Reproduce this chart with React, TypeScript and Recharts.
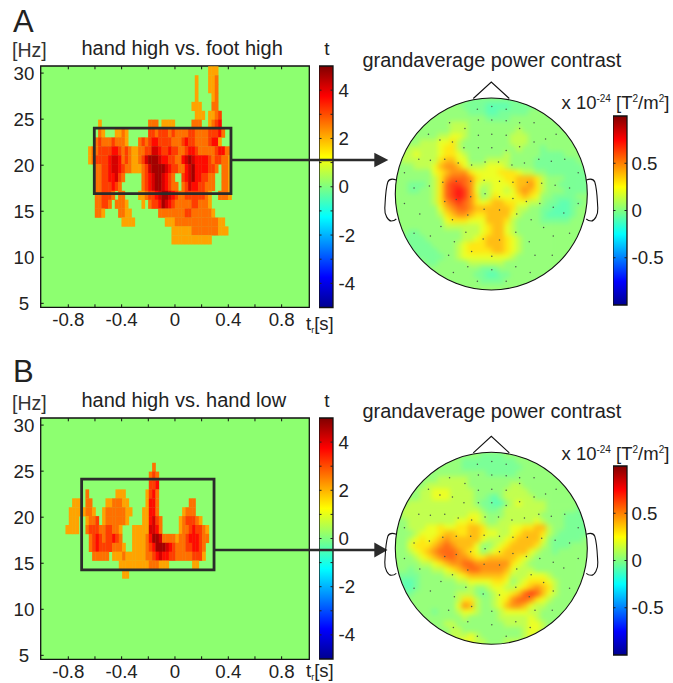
import React from "react";
import { ScatterChart, Scatter, XAxis, YAxis, ReferenceArea } from "recharts";

const FONT = '"Liberation Sans", Arial, sans-serif';
const INK = "#222";

// jet colour map used by every panel
const JET_STOPS = [
  [0, 0, 0, 143], [0.125, 0, 0, 255], [0.375, 0, 255, 255],
  [0.625, 255, 255, 0], [0.875, 255, 0, 0], [1, 128, 0, 0],
];
function jet(x: number) {
  const c = Math.max(0, Math.min(1, x));
  for (let i = 1; i < JET_STOPS.length; i++) {
    const a = JET_STOPS[i - 1], b = JET_STOPS[i];
    if (c <= b[0]) {
      const k = (c - a[0]) / (b[0] - a[0]);
      return `rgb(${[1, 2, 3].map((j) => Math.round(a[j] + (b[j] - a[j]) * k)).join(",")})`;
    }
  }
  return "rgb(128,0,0)";
}

// time-frequency rows, top to bottom. Each char is t / 0.5, '.' is below threshold
const FREQS = [30.24, 29.27, 28.31, 27.34, 26.38, 25.41, 24.45, 23.48, 22.52, 21.55, 20.58, 19.62, 18.65, 17.69, 16.72, 15.76, 14.79, 13.82, 12.86, 11.89];
const T_START_A = -0.65;
const TF_A = [
  "....................................444",
  "................................4...445",
  "................................4...445",
  "................................4....45",
  "...............................444...55",
  "................................444.4456",
  "...4..............555.4444.....555..4567",
  "...54...4454......66566656555566555566675",
  "..5655565554...5656776666555676655556774",
  "4556666776565445566887667665567765555567755",
  "4566667887565445689998776655789877776566554",
  "..5566788765544456899998766557897777665.554",
  "..556677865.....5678998765..6789776655..554",
  "..55666765......56789987655.5687766555..554",
  "..556665.55....4456678998765566666654..5554",
  "..55665.5554....4.5667987655555665554",
  "..554....5544........55555555665555554",
  "..........4444.........444555555555555544",
  ".........................44444455555555444",
  ".........................444444444444",
];
const T_START_B = -0.82;
const TF_B = [
  "",
  "",
  "",
  "",
  "",
  "..........................5",
  ".........................565",
  ".........................667",
  "......5........444......4675",
  "..444.55....4455544.....4775.........55",
  ".44444554..455555544...44775.......4555",
  ".444..4556.45555554....447865.....4566654",
  "4444..56665566554...444448875.....455676654",
  ".......5676566765...44445799855554556777655",
  ".......56766665554..4444567999876555667765",
  "........55555.4445444444556787766555556664",
  "................444444444555444.......44",
  ".................44",
];

// topography rows, top to bottom. 4 is zero, steps of 0.09 above and 0.06 below
const LEVELS = "0123456789abc";
const TOPO_A = [
  "44444444444433333333344444444444",
  "44444444444333322223333444444444",
  "44444444444433322333334444444444",
  "44444444444444433334444444444444",
  "44444444455544444444444444444444",
  "44444444455544444444544444444444",
  "44444445566544444445554444444444",
  "44445556675444444445554444444444",
  "44555556775444444444544434444444",
  "45565556776544444454444433334444",
  "45555557886644455554444333333344",
  "44455568998655566654444333333334",
  "44444467899976666777655443333333",
  "44444457" + "9aaa9766" + "66778887" + "54443333",
  "44333457abba96556667889754433333",
  "44334457abcb9645" + "66568987" + "54443333",
  "44444457abcb9745" + "76667876" + "44333344",
  "444444579aba9767" + "88776655" + "43322334",
  "44444446" + "89aa9888" + "88875544" + "33222344",
  "44444445" + "78998778" + "88865444" + "32222344",
  "44444444" + "67776668" + "88754444" + "33333444",
  "44444444" + "55555567" + "88654444" + "44444444",
  "44334444" + "44455567" + "88654444" + "44444444",
  "43333444" + "44455678" + "88765444" + "44444444",
  "43333344" + "44567778" + "88765444" + "44444444",
  "44333334" + "44567777" + "88765444" + "44444444",
  "44433333" + "44566666" + "66654444" + "44444444",
  "44444334" + "44445555" + "55444444" + "44444444",
  "44444444" + "44444433" + "34444444" + "44444444",
  "44444444" + "44444332" + "23344444" + "44444444",
  "44444444" + "44444433" + "33444444" + "44444444",
  "44444444" + "44444444" + "44444444" + "44444444",
];
const TOPO_B = [
  "44444444" + "44444433" + "33444444" + "44444444",
  "44444444" + "44433333" + "33334444" + "44444444",
  "44444444" + "44433333" + "33333444" + "44444444",
  "44444444" + "44444443" + "33334444" + "44444444",
  "44444445" + "55554444" + "44444444" + "44444444",
  "44444555" + "55554444" + "44455444" + "44444444",
  "44445566" + "65555444" + "44555544" + "44444444",
  "44445566" + "65555443" + "24555554" + "44444444",
  "44555555" + "55555433" + "22456555" + "54444444",
  "45555555" + "55555543" + "34555555" + "54444433",
  "45555555" + "55556654" + "44555555" + "44443333",
  "44555555" + "55667654" + "45555556" + "54443333",
  "44555667" + "66778875" + "55566778" + "85443333",
  "44456667" + "88778876" + "65567888" + "75433333",
  "44567678" + "98888865" + "55678888" + "64333334",
  "44677789" + "a9888644" + "56788887" + "54333444",
  "4456789a" + "aa987645" + "67888865" + "44344444",
  "44456789" + "aa998778" + "88887654" + "44444444",
  "44445567" + "899aa999" + "99976544" + "44444444",
  "44344455" + "6789aa99" + "99865554" + "44444444",
  "33334444" + "55678888" + "88755566" + "65444444",
  "32234444" + "44556666" + "77645677" + "76544444",
  "32234444" + "44445445" + "66556789" + "87544444",
  "43344444" + "44555434" + "56678aba" + "86544444",
  "44444444" + "44577544" + "5679aa97" + "65444444",
  "44444444" + "44698544" + "56899865" + "54444444",
  "44444434" + "44566544" + "45666655" + "44444444",
  "44444444" + "44454444" + "45555565" + "44444444",
  "44444444" + "55444444" + "44555566" + "54444444",
  "44444444" + "45544444" + "44444566" + "54444444",
  "44444444" + "45556544" + "44444565" + "44444444",
  "44444444" + "55666554" + "44555554" + "44444444",
];

// sensor positions as offsets from the head centre, in units of the head radius
const SENSOR_X = [-0.15, 0, 0.15, -0.14, 0, 0.15, 0.29, 0.44, -0.44, -0.28, 0.29, -0.66, -0.14, 0, 0.15, 0.56, 0.67, -0.54, -0.41, -0.29, -0.14, 0, 0.15, 0.29, 0.44, -0.76, -0.64, -0.49, -0.35, -0.21, -0.07, 0.07, 0.21, 0.34, 0.49, 0.62, 0.76, -0.91, 0.9, -0.81, -0.65, -0.51, -0.37, -0.22, -0.08, 0.08, 0.22, 0.37, 0.52, 0.66, 0.81, -0.91, -0.49, -0.37, -0.22, -0.07, 0.08, 0.22, 0.36, 0.5, 0.64, 0.9, -0.75, -0.41, -0.25, -0.08, 0.08, 0.26, 0.41, 0.75, -0.64, -0.53, -0.27, -0.09, 0.08, 0.25, 0.54, 0.64, -0.81, 0.81, -0.39, -0.21, 0.39, -0.45, 0, 0.45, 0.63, -0.25, 0.25, -0.40, 0.40, 0, -0.15, 0.15];
const SENSOR_Y = [0.88, 0.91, 0.88, 0.77, 0.77, 0.76, 0.74, 0.74, 0.74, 0.68, 0.68, 0.62, 0.61, 0.62, 0.61, 0.57, 0.62, 0.56, 0.54, 0.48, 0.48, 0.48, 0.45, 0.49, 0.54, 0.36, 0.35, 0.36, 0.32, 0.3, 0.33, 0.33, 0.3, 0.32, 0.36, 0.34, 0.36, 0.22, 0.22, 0.06, 0.08, 0.12, 0.13, 0.13, 0.14, 0.13, 0.12, 0.12, 0.11, 0.09, 0.06, -0.1, -0.08, -0.06, -0.03, 0, -0.03, -0.05, -0.08, -0.1, -0.14, -0.1, -0.21, -0.27, -0.22, -0.16, -0.17, -0.21, -0.27, -0.2, -0.44, -0.34, -0.4, -0.47, -0.48, -0.4, -0.35, -0.44, -0.41, -0.41, -0.5, -0.6, -0.5, -0.64, -0.65, -0.64, -0.64, -0.76, -0.76, -0.82, -0.82, -0.79, -0.91, -0.91];

const T_TICKS = [-0.8, -0.6, -0.4, -0.2, 0, 0.2, 0.4, 0.6, 0.8];
const T_LABELS = [-0.8, -0.4, 0, 0.4, 0.8];
const HZ_TICKS = [5, 10, 15, 20, 25, 30];
const T_BAR_TICKS = [-4, -3, -2, -1, 0, 1, 2, 3, 4];
const T_BAR_LABELS = [-4, -2, 0, 2, 4];
const POWER_BAR_TICKS = [-0.5, 0, 0.5];

// analysis windows [t1, t2, f1, f2]
const BOX_A = [-0.605, 0.42, 16.92, 24.03];
const BOX_B = [-0.7, 0.293, 14.28, 24.14];

const tfPoints = (rows: string[], tStart: number) =>
  rows.flatMap((row, k) =>
    row.split("").flatMap((c, i) =>
      c === "." ? [] : [{ t: tStart + 0.025 * i + 0.0125, f: FREQS[k], v: Number(c) * 0.5 + 0.15 }]
    )
  );

const levelValue = (c: string) => {
  const n = LEVELS.indexOf(c) - 4;
  return (n < 0 ? n * 0.06 : n * 0.09) + 0.03;
};

const topoPoints = (rows: string[]) =>
  rows.flatMap((row, j) =>
    row.split("").map((c, i) => ({
      x: (145 + 18 * i - 423) / 287,
      y: (461 - (182 + 18 * j)) / 287,
      v: levelValue(c),
    }))
  );

const sensorPoints = SENSOR_X.map((x, i) => ({ x, y: SENSOR_Y[i] }));

function TfPanel({ top, rows, tStart, box }: { top: number; rows: string[]; tStart: number; box: number[] }) {
  const data = tfPoints(rows, tStart);
  return (
    <div className="tf" style={{ position: "absolute", left: 0, top: top - 6 }}>
      <ScatterChart width={312} height={285} margin={{ top: 6, right: 2.7, bottom: 0, left: 0 }}>
        <XAxis
          type="number" dataKey="t" domain={[-1.007, 1.0075]} ticks={T_TICKS} interval={0} height={37.7}
          axisLine={false} tickLine={false} tickSize={0} tickMargin={0} allowDataOverflow
          tick={(p: any) => (
            <g>
              <line x1={p.x} x2={p.x} y1={p.y} y2={p.y - 3} stroke="#111" strokeWidth={1} />
              <line x1={p.x} x2={p.x} y1={p.y - 241} y2={p.y - 238} stroke="#111" strokeWidth={1} />
              {T_LABELS.includes(p.payload.value) && (
                <text x={p.x} y={p.y + 19} textAnchor="middle" fontFamily={FONT} fontSize={18.7} fill={INK}>
                  {p.payload.value === 0 ? "0" : p.payload.value.toFixed(1)}
                </text>
              )}
            </g>
          )}
        />
        <YAxis
          type="number" dataKey="f" domain={[4.57, 30.77]} ticks={HZ_TICKS} interval={0} width={40.7}
          axisLine={false} tickLine={false} tickSize={0} tickMargin={0} allowDataOverflow
          tick={(p: any) => (
            <g>
              <line x1={p.x} x2={p.x + 3} y1={p.y} y2={p.y} stroke="#111" strokeWidth={1} />
              <text x={24} y={p.y + 6.5} textAnchor="middle" fontFamily={FONT} fontSize={18.7} fill={INK}>
                {p.payload.value}
              </text>
            </g>
          )}
        />
        <ReferenceArea x1={-1.007} x2={1.0075} y1={4.57} y2={30.77} fill="#8dff70" fillOpacity={1} stroke="#111" strokeWidth={1.3} />
        <Scatter
          data={data} isAnimationActive={false}
          shape={(p: any) => (
            <rect x={p.cx - 1.85} y={p.cy - 4.6} width={3.7} height={9.2} fill={jet((p.payload.v + 5) / 10)} />
          )}
        />
        <ReferenceArea x1={box[0]} x2={box[1]} y1={box[2]} y2={box[3]} fill="none" stroke="#2b2b2b" strokeWidth={2.8} zIndex={900} />
      </ScatterChart>
    </div>
  );
}

function ColorBar({ id, left, top, height, half, ticks, labels, labelGap }: {
  id: string; left: number; top: number; height: number; half: number; ticks: number[]; labels: number[]; labelGap: number;
}) {
  return (
    <div style={{ position: "absolute", left, top: top - 4 }}>
      <ScatterChart width={60} height={height + 8} margin={{ top: 4, right: 0, bottom: 4, left: 0 }}>
        <defs>
          <linearGradient id={id} x1="0" y1="1" x2="0" y2="0">
            {JET_STOPS.map((s) => (
              <stop key={s[0]} offset={s[0]} stopColor={`rgb(${s[1]},${s[2]},${s[3]})`} />
            ))}
          </linearGradient>
        </defs>
        <XAxis type="number" dataKey="x" domain={[0, 1]} hide />
        <YAxis
          type="number" dataKey="y" domain={[-half, half]} ticks={ticks} interval={0} orientation="right" width={46}
          axisLine={false} tickLine={false} tickSize={0} tickMargin={0} allowDataOverflow
          tick={(p: any) => (
            <g>
              <line x1={p.x} x2={p.x - 2.5} y1={p.y} y2={p.y} stroke="#222" strokeWidth={1} />
              <line x1={p.x - 14} x2={p.x - 11.5} y1={p.y} y2={p.y} stroke="#222" strokeWidth={1} />
              {labels.includes(p.payload.value) && (
                <text x={p.x + labelGap} y={p.y + 6.5} fontFamily={FONT} fontSize={18.7} fill={INK}>
                  {p.payload.value}
                </text>
              )}
            </g>
          )}
        />
        <Scatter data={[{ x: 0, y: -half }, { x: 1, y: half }]} isAnimationActive={false} shape={() => <g />} />
        <ReferenceArea x1={0} x2={1} y1={-half} y2={half} fill={`url(#${id})`} fillOpacity={1} stroke="#111" strokeWidth={1.3} />
      </ScatterChart>
    </div>
  );
}

const HEAD_R = 96;
const HEAD_CX = 491.3;
const TOPO_SIZE = HEAD_R * 2.1;

function TopoMap({ cy, rows }: { cy: number; rows: string[] }) {
  const left = HEAD_CX - TOPO_SIZE / 2;
  const top = cy - TOPO_SIZE / 2;
  const axes = (
    <>
      <XAxis type="number" dataKey="x" domain={[-1.05, 1.05]} hide />
      <YAxis type="number" dataKey="y" domain={[-1.05, 1.05]} hide />
    </>
  );
  return (
    <div style={{ position: "absolute", left, top, width: TOPO_SIZE, height: TOPO_SIZE }}>
      <div style={{ position: "absolute", inset: 0, background: "#a0ff60", clipPath: `circle(${HEAD_R}px at 50% 50%)`, opacity: 0.92 }}>
        <div style={{ filter: "blur(2.8px)" }}>
          <ScatterChart width={TOPO_SIZE} height={TOPO_SIZE} margin={{ top: 0, right: 0, bottom: 0, left: 0 }}>
            {axes}
            <Scatter
              data={topoPoints(rows)} isAnimationActive={false}
              shape={(p: any) => <rect x={p.cx - 3.3} y={p.cy - 3.3} width={6.6} height={6.6} fill={jet((p.payload.v + 1) / 2)} />}
            />
          </ScatterChart>
        </div>
      </div>
      <div style={{ position: "absolute", inset: 0 }}>
        <ScatterChart width={TOPO_SIZE} height={TOPO_SIZE} margin={{ top: 0, right: 0, bottom: 0, left: 0 }}>
          {axes}
          <Scatter
            data={sensorPoints} isAnimationActive={false}
            shape={(p: any) => <circle cx={p.cx} cy={p.cy} r={0.75} fill="#4a5a4a" />}
          />
        </ScatterChart>
      </div>
    </div>
  );
}

function Head({ cy }: { cy: number }) {
  const cx = HEAD_CX;
  const top = cy - HEAD_R;
  const ear = (s: number) =>
    `M${cx + s * 95} ${cy - 14} C${cx + s * 99} ${cy - 15.5} ${cx + s * 102} ${cy - 15.5} ${cx + s * 103.5} ${cy - 12} C${cx + s * 106} ${cy - 4} ${cx + s * 106} ${cy + 8} ${cx + s * 106.5} ${cy + 14} C${cx + s * 107} ${cy + 21} ${cx + s * 103} ${cy + 27} ${cx + s * 100} ${cy + 27} C${cx + s * 98} ${cy + 27} ${cx + s * 96} ${cy + 26} ${cx + s * 95} ${cy + 25}`;
  return (
    <g fill="none" stroke="#111" strokeWidth={1.1}>
      <circle cx={cx} cy={cy} r={HEAD_R} />
      <path d={`M${cx - 18} ${top + 0.5} L${cx} ${top - 16} L${cx + 18} ${top + 0.5}`} />
      <path d={ear(-1)} />
      <path d={ear(1)} />
    </g>
  );
}

function Unit({ x, y }: { x: number; y: number }) {
  return (
    <text x={x} y={y} fontFamily={FONT} fontSize={18.5} fill={INK}>
      x 10<tspan fontSize={10} dy={-7}>-24</tspan>
      <tspan dy={7}> [T</tspan><tspan fontSize={10} dy={-7}>2</tspan>
      <tspan dy={7}>/m</tspan><tspan fontSize={10} dy={-7}>2</tspan>
      <tspan dy={7}>]</tspan>
    </text>
  );
}

function Annotations() {
  const label = { fontFamily: FONT, fill: INK };
  const timeLabel = (y: number) => (
    <text x={306} y={y} {...label} fontSize={18.5}>
      t<tspan fontSize={9} dy={3}>r</tspan><tspan dy={-3}>[s]</tspan>
    </text>
  );
  return (
    <svg width={673} height={683} style={{ position: "absolute", left: 0, top: 0, pointerEvents: "none" }}>
      <text x={13} y={32} {...label} fontSize={31}>A</text>
      <text x={13} y={382} {...label} fontSize={31}>B</text>
      <text x={12} y={57} {...label} fontSize={19.5} fill="#333">[Hz]</text>
      <text x={12} y={410} {...label} fontSize={19.5} fill="#333">[Hz]</text>
      <text x={81.5} y={55} {...label} fontSize={20}>hand high vs. foot high</text>
      <text x={81.5} y={407} {...label} fontSize={20}>hand high vs. hand low</text>
      <text x={327} y={55} {...label} fontSize={19} textAnchor="middle">t</text>
      <text x={327} y={407} {...label} fontSize={19} textAnchor="middle">t</text>
      {timeLabel(330)}
      {timeLabel(677)}
      <text x={362.5} y={67} {...label} fontSize={19.9}>grandaverage power contrast</text>
      <text x={362.5} y={418} {...label} fontSize={19.9}>grandaverage power contrast</text>
      <Unit x={561.5} y={109} />
      <Unit x={561.5} y={460} />
      <line x1={231} x2={376} y1={160} y2={160} stroke="#2b2b2b" strokeWidth={2.7} />
      <polygon points="374.3,152.7 388.3,160 374.3,167.3" fill="#2b2b2b" />
      <line x1={214} x2={376} y1={550} y2={550} stroke="#2b2b2b" strokeWidth={2.7} />
      <polygon points="374.3,542.5 387.5,550 374.3,557.5" fill="#2b2b2b" />
      <Head cy={194} />
      <Head cy={548.3} />
    </svg>
  );
}

export default function App() {
  return (
    <div style={{ position: "absolute", left: 0, top: 0, width: 673, height: 683, background: "#fff", overflow: "hidden" }}>
      <style>{".tf .recharts-scatter { filter: blur(0.5px); }"}</style>
      <TfPanel top={66} rows={TF_A} tStart={T_START_A} box={BOX_A} />
      <TfPanel top={418.3} rows={TF_B} tStart={T_START_B} box={BOX_B} />
      <ColorBar id="jetA" left={318.5} top={66} height={241.5} half={5} ticks={T_BAR_TICKS} labels={T_BAR_LABELS} labelGap={5.5} />
      <ColorBar id="jetB" left={318.5} top={418.3} height={241} half={5} ticks={T_BAR_TICKS} labels={T_BAR_LABELS} labelGap={5.5} />
      <ColorBar id="jetC" left={613.3} top={116} height={189} half={1} ticks={POWER_BAR_TICKS} labels={POWER_BAR_TICKS} labelGap={4.5} />
      <ColorBar id="jetD" left={613.3} top={466} height={189} half={1} ticks={POWER_BAR_TICKS} labels={POWER_BAR_TICKS} labelGap={4.5} />
      <TopoMap cy={194} rows={TOPO_A} />
      <TopoMap cy={548.3} rows={TOPO_B} />
      <Annotations />
    </div>
  );
}
